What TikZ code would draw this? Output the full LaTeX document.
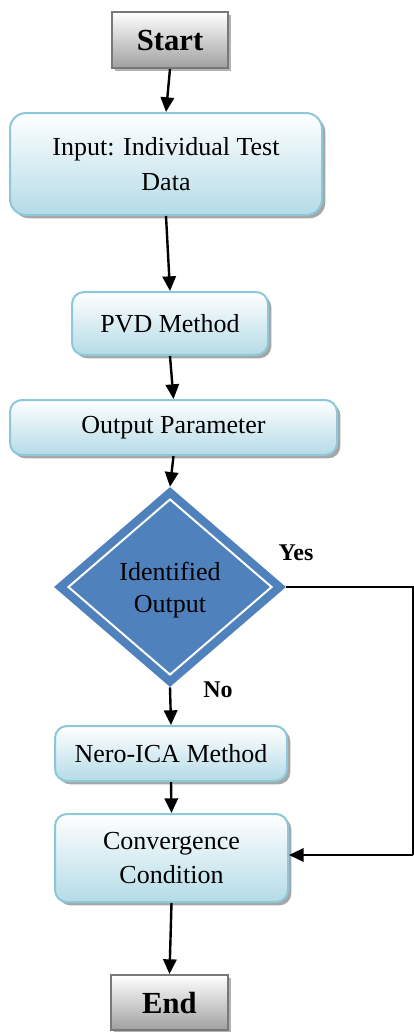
\documentclass[tikz,border=0pt]{standalone}
\usepackage{fontspec}
\setmainfont{Liberation Serif}
\usetikzlibrary{arrows.meta,shapes.geometric,shadows}
\definecolor{procline}{RGB}{140,200,218}
\definecolor{procbot}{RGB}{180,219,231}
\definecolor{seline}{RGB}{120,120,120}
\definecolor{sebot}{RGB}{160,160,160}
\definecolor{decblue}{RGB}{79,129,189}
\begin{document}
\begin{tikzpicture}[x=0.75pt,y=-0.75pt,
  proc/.style={draw=procline, line width=1.5pt, rounded corners=9pt,
    top color=white, bottom color=procbot,
    drop shadow={shadow xshift=2.5pt,shadow yshift=-2.5pt,fill=black!35,opacity=1},
    font=\fontsize{19.5}{26}\selectfont, align=center, inner sep=0pt},
  startend/.style={draw=seline, line width=1.5pt,
    top color=white, bottom color=sebot,
    drop shadow={shadow xshift=2.5pt,shadow yshift=-2.5pt,fill=black!30,opacity=1},
    font=\fontsize{23}{26}\selectfont\bfseries, inner sep=0pt},
  arr/.style={line width=1.8pt, -{Triangle[length=11pt,width=10pt]}},
  thinline/.style={line width=1pt},
  lbl/.style={font=\fontsize{18}{20}\selectfont\bfseries, inner sep=0pt}
]
\useasboundingbox (0,0) rectangle (414,1032);

\node[startend, minimum width=87pt, minimum height=42pt] (start) at (170,40) {Start};
\node[proc, rounded corners=12pt, minimum width=234pt, minimum height=76.5pt] (input) at (166,164) {Input: Individual Test\\Data};
\node[proc, minimum width=147pt, minimum height=47.25pt] (pvd) at (170,323.5) {PVD Method};
\node[proc, minimum width=245.25pt, minimum height=41.25pt] (outp) at (173.5,427.5) {Output Parameter};
\node[diamond, fill=decblue, minimum width=174pt, minimum height=150pt, inner sep=0pt] (dec) at (170,587) {};
\node[diamond, draw=white, line width=1.5pt, minimum width=153pt, minimum height=132pt, inner sep=0pt] (decin) at (170,587) {};
\node[font=\fontsize{19.5}{24}\selectfont, align=center, inner sep=0pt] (dectext) at (170,590) {Identified\\Output};
\node[proc, minimum width=174pt, minimum height=41.25pt] (nero) at (171,753.5) {Nero-ICA Method};
\node[proc, minimum width=174.75pt, minimum height=66pt] (conv) at (171.5,858) {Convergence\\Condition};
\node[startend, minimum width=87.75pt, minimum height=41.25pt] (end) at (169.5,1002.5) {End};

\node[lbl] (yes) at (296,553) {Yes};
\node[lbl] (no) at (218,690) {No};

\coordinate (c1) at (413,587);
\coordinate (c2) at (413,855);

\draw[arr] (start.south) -- (input.north);
\draw[arr] (input.south) -- (pvd.north);
\draw[arr] (pvd.south) -- (outp.north);
\draw[arr] (outp.south) -- (dec.north);
\draw[arr] (dec.south) -- (nero.north);
\draw[arr] (nero.south) -- (conv.north);
\draw[arr] (conv.south) -- (end.north);
\draw[thinline] (dec.east) -- (c1) -- (c2);
\draw[arr] (c2) -- (c2 -| conv.east);
\end{tikzpicture}
\end{document}
